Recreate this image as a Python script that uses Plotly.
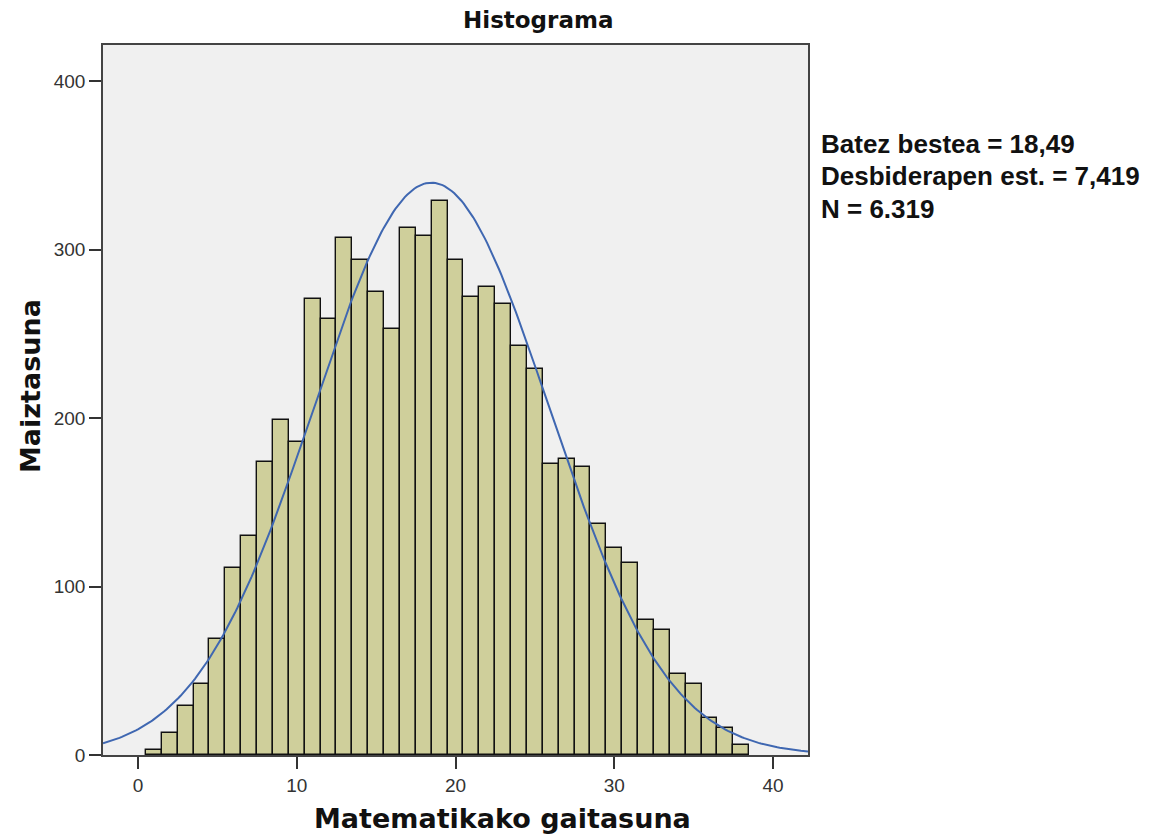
import numpy as np
import plotly.graph_objects as go

# histogram: bin centres (width 1) and frequencies
bin_centers = list(range(1, 39))
counts = [
    3, 13, 29, 42, 69, 111, 130, 174, 199, 186,
    271, 259, 307, 294, 275, 253, 313, 308, 329, 294,
    272, 278, 268, 243, 229, 173, 176, 171, 137, 123,
    114, 80, 74, 48, 42, 22, 16, 6,
]

# summary statistics printed beside the chart
mean = 18.49
std_dev = 7.419
n_total = 6319
bin_width = 1.0

stats_lines = [
    'Batez bestea = 18,49',
    'Desbiderapen est. = 7,419',
    'N = 6.319',
]

x_ticks = [0, 10, 20, 30, 40]
y_ticks = [0, 100, 200, 300, 400]

# plot area in pixels (figure is 1152 x 837)
W, H = 1152, 837
L, R, T, B = 103, 808, 45, 755


def px_x(px):
    return (px - L) / (R - L)


def px_y(py):
    return (B - py) / (B - T)


# fitted normal curve, as drawn by the stats package
curve_x = np.linspace(-2.2, 42.2, 300)
curve_y = n_total * bin_width / (std_dev * np.sqrt(2 * np.pi)) * np.exp(-0.5 * ((curve_x - mean) / std_dev) ** 2)

fig = go.Figure()
fig.add_trace(
    go.Bar(
        x=bin_centers, y=counts, width=bin_width,
        marker=dict(color='#cfcf9b', line=dict(color='#111111', width=1.4)),
        showlegend=False, hoverinfo='x+y',
    )
)
fig.add_trace(
    go.Scatter(
        x=curve_x, y=curve_y, mode='lines', line=dict(color='#3f67b1', width=2),
        showlegend=False, hoverinfo='skip',
    )
)

axis_font = dict(family='Liberation Sans, Arial, sans-serif', size=19, color='#333333')
fig.update_xaxes(
    range=[-2.2, 42.2], tickvals=x_ticks, ticks='outside', ticklen=12, tickwidth=1.5, tickcolor='#333333',
    showgrid=False, zeroline=False, showline=True, linecolor='#444444', linewidth=1.5, mirror=True,
    tickfont=axis_font,
)
fig.update_yaxes(
    range=[0, 421.5], tickvals=y_ticks, ticks='outside', ticklen=12, tickwidth=1.5, tickcolor='#333333',
    showgrid=False, zeroline=False, showline=True, linecolor='#444444', linewidth=1.5, mirror=True,
    tickfont=axis_font,
)

title_font = 'DejaVu Sans, sans-serif'
annotations = [
    dict(text='<b>Histograma</b>', x=px_x(538), y=px_y(20), font=dict(family=title_font, size=23, color='#111111')),
    dict(text='<b>Matematikako gaitasuna</b>', x=px_x(502), y=px_y(818),
         font=dict(family=title_font, size=27, color='#111111')),
    dict(text='<b>Maiztasuna</b>', x=px_x(30), y=px_y(386), textangle=-90,
         font=dict(family=title_font, size=27, color='#111111')),
]
for i, line in enumerate(stats_lines):
    annotations.append(
        dict(text='<b>' + line + '</b>', x=px_x(819), y=px_y(144 + 32.5 * i), xanchor='left',
             font=dict(family='Liberation Sans, Arial, sans-serif', size=26, color='#111111'))
    )
for a in annotations:
    a.setdefault('xanchor', 'center')
    a.update(xref='paper', yref='paper', yanchor='middle', showarrow=False)

fig.update_layout(
    width=W, height=H, margin=dict(l=L, r=W - R, t=T, b=H - B),
    paper_bgcolor='white', plot_bgcolor='#f0f0f0', bargap=0,
    annotations=annotations,
)

# drop the browser's default page margin so the figure sits at the window corner
fig.write_html(
    "out.html", config={'displayModeBar': False},
    post_script="document.body.style.margin='0';document.body.style.overflow='hidden';",
)
